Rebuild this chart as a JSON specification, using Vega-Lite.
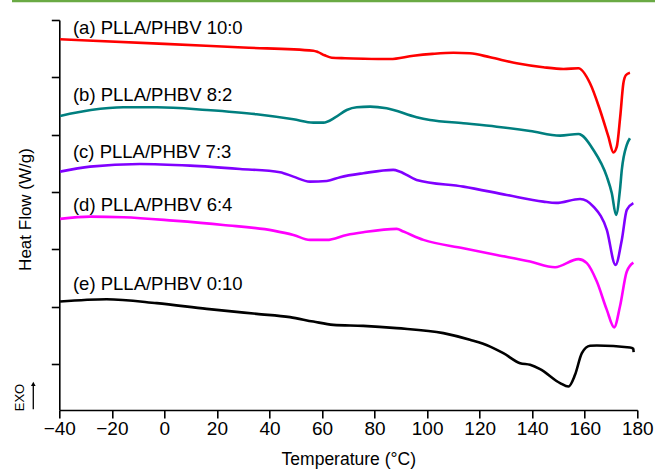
{
  "$schema": "https://vega.github.io/schema/vega-lite/v6.json",
  "width": 578,
  "height": 390,
  "autosize": {"type": "none"},
  "padding": {"left": 59.3, "top": 20, "right": 17.7, "bottom": 65},
  "background": "white",
  "config": {
    "view": {"stroke": null},
    "font": "Liberation Sans",
    "axis": {
      "domainColor": "black",
      "domainWidth": 1.6,
      "tickColor": "black",
      "tickWidth": 1.6,
      "labelColor": "black",
      "titleColor": "black",
      "titleFontWeight": "normal",
      "grid": false
    }
  },
  "datasets": {
    "curves": [
      {"s": "a", "t": -39.7, "h": 6.664},
      {"s": "a", "t": 0, "h": 6.583},
      {"s": "a", "t": 30, "h": 6.52},
      {"s": "a", "t": 56.7, "h": 6.465},
      {"s": "a", "t": 58.5, "h": 6.44},
      {"s": "a", "t": 61, "h": 6.385},
      {"s": "a", "t": 63.7, "h": 6.343},
      {"s": "a", "t": 68.8, "h": 6.333},
      {"s": "a", "t": 76, "h": 6.325},
      {"s": "a", "t": 85.9, "h": 6.32},
      {"s": "a", "t": 94.8, "h": 6.378},
      {"s": "a", "t": 102, "h": 6.41},
      {"s": "a", "t": 110, "h": 6.43},
      {"s": "a", "t": 116.3, "h": 6.42},
      {"s": "a", "t": 124, "h": 6.35},
      {"s": "a", "t": 134.1, "h": 6.245},
      {"s": "a", "t": 144.2, "h": 6.176},
      {"s": "a", "t": 151.9, "h": 6.146},
      {"s": "a", "t": 157.6, "h": 6.158},
      {"s": "a", "t": 162, "h": 5.897},
      {"s": "a", "t": 165.8, "h": 5.431},
      {"s": "a", "t": 169, "h": 4.966},
      {"s": "a", "t": 170.9, "h": 4.69},
      {"s": "a", "t": 172.2, "h": 4.792},
      {"s": "a", "t": 173.5, "h": 5.315},
      {"s": "a", "t": 174.7, "h": 5.897},
      {"s": "a", "t": 175.7, "h": 6.041},
      {"s": "a", "t": 177.2, "h": 6.082},

      {"s": "b", "t": -39.7, "h": 5.327},
      {"s": "b", "t": -28, "h": 5.43},
      {"s": "b", "t": -15.6, "h": 5.479},
      {"s": "b", "t": -2.9, "h": 5.479},
      {"s": "b", "t": 16.1, "h": 5.431},
      {"s": "b", "t": 35.1, "h": 5.357},
      {"s": "b", "t": 49.1, "h": 5.269},
      {"s": "b", "t": 56.7, "h": 5.21},
      {"s": "b", "t": 60.5, "h": 5.21},
      {"s": "b", "t": 65, "h": 5.301},
      {"s": "b", "t": 69.4, "h": 5.431},
      {"s": "b", "t": 73.2, "h": 5.479},
      {"s": "b", "t": 78.3, "h": 5.489},
      {"s": "b", "t": 84.6, "h": 5.461},
      {"s": "b", "t": 96, "h": 5.304},
      {"s": "b", "t": 101.1, "h": 5.257},
      {"s": "b", "t": 113.8, "h": 5.2},
      {"s": "b", "t": 126.5, "h": 5.14},
      {"s": "b", "t": 139.2, "h": 5.066},
      {"s": "b", "t": 150.6, "h": 4.984},
      {"s": "b", "t": 157.6, "h": 5.013},
      {"s": "b", "t": 163.3, "h": 4.734},
      {"s": "b", "t": 168.4, "h": 4.269},
      {"s": "b", "t": 170.3, "h": 3.98},
      {"s": "b", "t": 171.9, "h": 3.602},
      {"s": "b", "t": 173.4, "h": 4.037},
      {"s": "b", "t": 174.1, "h": 4.386},
      {"s": "b", "t": 176, "h": 4.822},
      {"s": "b", "t": 177.2, "h": 4.938},

      {"s": "c", "t": -39.7, "h": 4.356},
      {"s": "c", "t": -28.3, "h": 4.443},
      {"s": "c", "t": -9.3, "h": 4.49},
      {"s": "c", "t": 9.8, "h": 4.461},
      {"s": "c", "t": 28.8, "h": 4.403},
      {"s": "c", "t": 44, "h": 4.346},
      {"s": "c", "t": 49.1, "h": 4.269},
      {"s": "c", "t": 55.4, "h": 4.182},
      {"s": "c", "t": 61.8, "h": 4.194},
      {"s": "c", "t": 66.9, "h": 4.259},
      {"s": "c", "t": 75.7, "h": 4.328},
      {"s": "c", "t": 87.1, "h": 4.386},
      {"s": "c", "t": 89.7, "h": 4.356},
      {"s": "c", "t": 96, "h": 4.212},
      {"s": "c", "t": 113.8, "h": 4.095},
      {"s": "c", "t": 130.3, "h": 3.95},
      {"s": "c", "t": 144.2, "h": 3.833},
      {"s": "c", "t": 149.1, "h": 3.811},
      {"s": "c", "t": 158.2, "h": 3.88},
      {"s": "c", "t": 163.3, "h": 3.746},
      {"s": "c", "t": 168.4, "h": 3.34},
      {"s": "c", "t": 171.7, "h": 2.73},
      {"s": "c", "t": 174.1, "h": 3.166},
      {"s": "c", "t": 176, "h": 3.689},
      {"s": "c", "t": 178.5, "h": 3.806},

      {"s": "d", "t": -39.7, "h": 3.532},
      {"s": "d", "t": -28.3, "h": 3.572},
      {"s": "d", "t": -15.6, "h": 3.561},
      {"s": "d", "t": 3.4, "h": 3.502},
      {"s": "d", "t": 22.4, "h": 3.427},
      {"s": "d", "t": 41.5, "h": 3.328},
      {"s": "d", "t": 49.1, "h": 3.253},
      {"s": "d", "t": 55.4, "h": 3.166},
      {"s": "d", "t": 61.8, "h": 3.166},
      {"s": "d", "t": 69.4, "h": 3.253},
      {"s": "d", "t": 75.7, "h": 3.3},
      {"s": "d", "t": 88.4, "h": 3.358},
      {"s": "d", "t": 91, "h": 3.311},
      {"s": "d", "t": 98.6, "h": 3.166},
      {"s": "d", "t": 113.8, "h": 3.021},
      {"s": "d", "t": 126.5, "h": 2.904},
      {"s": "d", "t": 139.2, "h": 2.788},
      {"s": "d", "t": 148.7, "h": 2.69},
      {"s": "d", "t": 157.6, "h": 2.83},
      {"s": "d", "t": 160.8, "h": 2.76},
      {"s": "d", "t": 164.6, "h": 2.439},
      {"s": "d", "t": 168.4, "h": 1.946},
      {"s": "d", "t": 171.2, "h": 1.641},
      {"s": "d", "t": 173.4, "h": 2.004},
      {"s": "d", "t": 176, "h": 2.614},
      {"s": "d", "t": 178.5, "h": 2.769},

      {"s": "e", "t": -39.7, "h": 2.091},
      {"s": "e", "t": -22, "h": 2.132},
      {"s": "e", "t": -2.9, "h": 2.063},
      {"s": "e", "t": 16.1, "h": 1.963},
      {"s": "e", "t": 35.1, "h": 1.876},
      {"s": "e", "t": 47.8, "h": 1.819},
      {"s": "e", "t": 56.7, "h": 1.742},
      {"s": "e", "t": 64.3, "h": 1.685},
      {"s": "e", "t": 75.7, "h": 1.667},
      {"s": "e", "t": 88.4, "h": 1.627},
      {"s": "e", "t": 106.2, "h": 1.54},
      {"s": "e", "t": 116.3, "h": 1.423},
      {"s": "e", "t": 124, "h": 1.306},
      {"s": "e", "t": 129, "h": 1.191},
      {"s": "e", "t": 135.4, "h": 1.017},
      {"s": "e", "t": 139.2, "h": 0.987},
      {"s": "e", "t": 143, "h": 0.912},
      {"s": "e", "t": 150.6, "h": 0.669},
      {"s": "e", "t": 153.8, "h": 0.609},
      {"s": "e", "t": 156.3, "h": 0.813},
      {"s": "e", "t": 158.9, "h": 1.191},
      {"s": "e", "t": 162, "h": 1.319},
      {"s": "e", "t": 164.6, "h": 1.324},
      {"s": "e", "t": 177.2, "h": 1.289},
      {"s": "e", "t": 178.5, "h": 1.266},
      {"s": "e", "t": 178.6, "h": 1.21}
    ],
    "labels": [
      {"label": "(a) PLLA/PHBV 10:0", "t": -34.8, "h": 6.861},
      {"label": "(b) PLLA/PHBV 8:2", "t": -34.8, "h": 5.684},
      {"label": "(c) PLLA/PHBV 7:3", "t": -34.8, "h": 4.691},
      {"label": "(d) PLLA/PHBV 6:4", "t": -34.8, "h": 3.776},
      {"label": "(e) PLLA/PHBV 0:10", "t": -34.8, "h": 2.399}
    ]
  },
  "layer": [
    {
      "data": {"name": "curves"},
      "mark": {"type": "line", "strokeWidth": 2.6, "interpolate": "monotone"},
      "encoding": {
        "x": {
          "field": "t", "type": "quantitative",
          "scale": {"domain": [-40, 180], "nice": false, "zero": false},
          "axis": {
            "title": "Temperature (°C)",
            "titleFontSize": 17.5,
            "titlePadding": 12,
            "values": [-40, -30, -20, -10, 0, 10, 20, 30, 40, 50, 60, 70, 80, 90, 100, 110, 120, 130, 140, 150, 160, 170, 180],
            "labelExpr": "datum.value % 20 === 0 ? datum.label : ''",
            "labelFontSize": 19,
            "labelPadding": 1,
            "labelFlush": false,
            "labelOverlap": false,
            "tickSize": {"condition": {"test": "datum.value % 20 !== 0", "value": 4.5}, "value": 8}
          }
        },
        "y": {
          "field": "h", "type": "quantitative",
          "scale": {"domain": [0.2, 7], "nice": false, "zero": false},
          "axis": {
            "title": "Heat Flow (W/g)",
            "titleFontSize": 17,
            "titlePadding": 16,
            "titleY": 189,
            "values": [1, 2, 3, 4, 5, 6, 7],
            "labels": false,
            "tickSize": 8
          }
        },
        "color": {
          "field": "s", "type": "nominal", "legend": null,
          "scale": {"domain": ["a", "b", "c", "d", "e"], "range": ["#FF0000", "#007F7F", "#8000FF", "#FF00FF", "#000000"]}
        }
      }
    },
    {
      "data": {"name": "labels"},
      "mark": {"type": "text", "align": "left", "baseline": "middle", "fontSize": 18.5, "color": "black"},
      "encoding": {
        "x": {"field": "t", "type": "quantitative"},
        "y": {"field": "h", "type": "quantitative"},
        "text": {"field": "label"}
      }
    },
    {
      "data": {"values": [{"t": -58, "t2": 187, "h": 7.33}]},
      "mark": {"type": "rule", "color": "#6AAA44", "strokeWidth": 2.6},
      "encoding": {
        "x": {"field": "t", "type": "quantitative"},
        "x2": {"field": "t2"},
        "y": {"field": "h", "type": "quantitative"}
      }
    },
    {
      "data": {"values": [{"label": "EXO", "t": -54.8, "h": 0.417}]},
      "mark": {"type": "text", "angle": 270, "align": "center", "baseline": "middle", "fontSize": 13, "color": "black"},
      "encoding": {
        "x": {"field": "t", "type": "quantitative"},
        "y": {"field": "h", "type": "quantitative"},
        "text": {"field": "label"}
      }
    },
    {
      "data": {"values": [{"t": -49.9, "h1": 0.215, "h2": 0.62}]},
      "mark": {"type": "rule", "color": "black", "strokeWidth": 1.3},
      "encoding": {
        "x": {"field": "t", "type": "quantitative"},
        "y": {"field": "h1", "type": "quantitative"},
        "y2": {"field": "h2"}
      }
    },
    {
      "data": {"values": [{"t": -49.9, "h": 0.655}]},
      "mark": {"type": "point", "shape": "triangle-up", "filled": true, "color": "black", "size": 22, "opacity": 1},
      "encoding": {
        "x": {"field": "t", "type": "quantitative"},
        "y": {"field": "h", "type": "quantitative"}
      }
    }
  ]
}
